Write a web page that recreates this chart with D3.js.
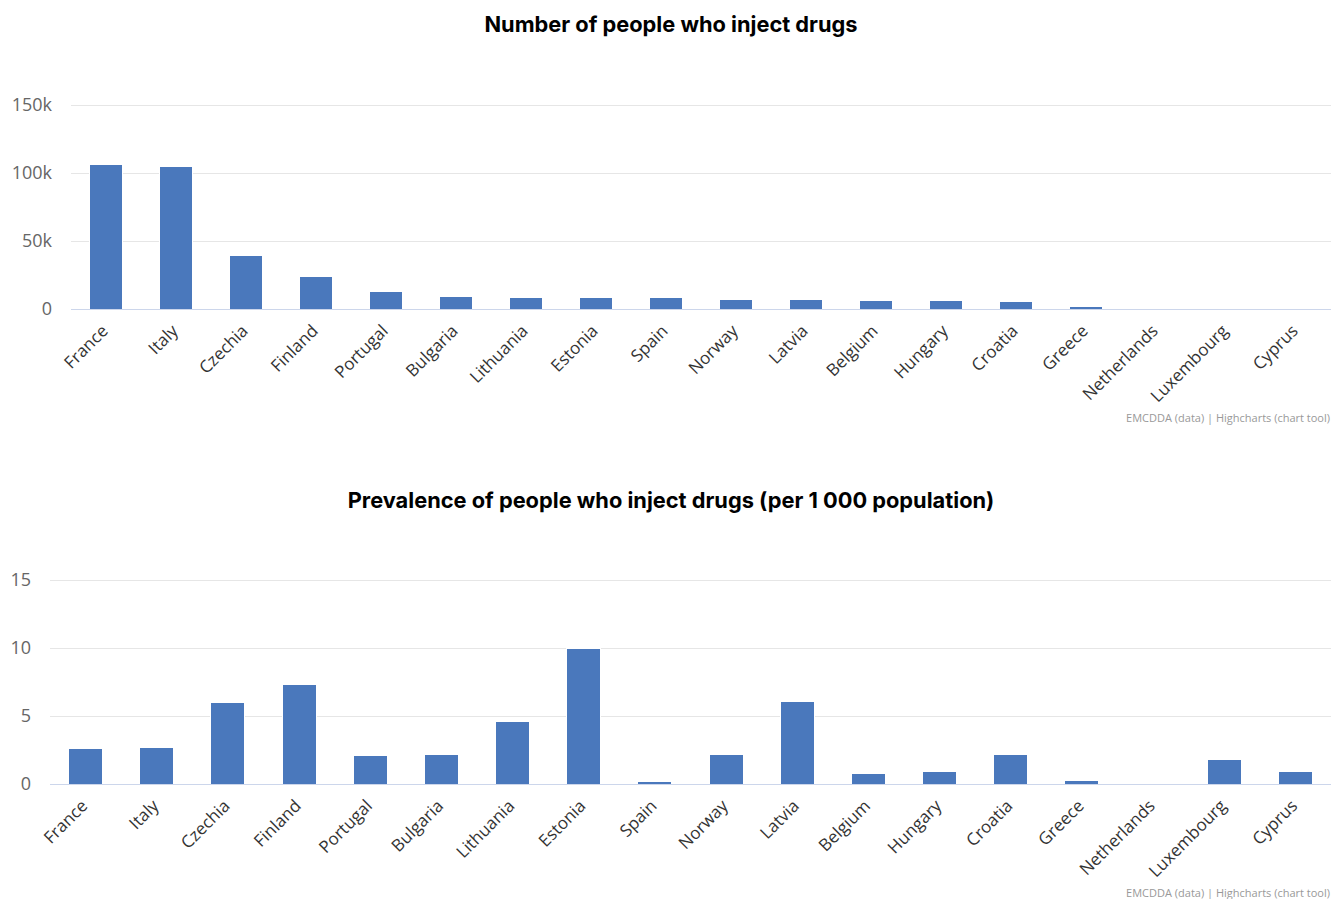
<!DOCTYPE html>
<html><head><meta charset="utf-8">
<script src="https://cdn.jsdelivr.net/npm/d3@7/dist/d3.min.js"></script>
<style>
body{margin:0;background:#fff;}
svg{display:block;}
</style></head>
<body>
<svg id="c" width="1331" height="899"></svg>
<script>
const countries = ["France","Italy","Czechia","Finland","Portugal","Bulgaria","Lithuania","Estonia","Spain","Norway","Latvia","Belgium","Hungary","Croatia","Greece","Netherlands","Luxembourg","Cyprus"];
const numberValues = [106100,104600,39500,24000,12700,9000,8300,8300,8300,7350,7350,6300,6300,5600,1700,0,0,0];
const prevalenceValues = [2.62,2.7,6.0,7.33,2.08,2.18,4.58,9.93,0.2,2.18,6.03,0.74,0.93,2.18,0.29,0,1.81,0.93];
const numberTicks = [0,50000,100000,150000];
const numberTickLabels = ["0","50k","100k","150k"];
const prevalenceTicks = [0,5,10,15];
const prevalenceTickLabels = ["0","5","10","15"];
const titles = ["Number of people who inject drugs","Prevalence of people who inject drugs (per 1 000 population)"];
const credit = "EMCDDA (data) | Highcharts (chart tool)";

const svg = d3.select("#c");
const FONT = "'Open Sans', 'DejaVu Sans', sans-serif";

function drawChart(cfg){
  const g = svg.append("g");
  g.append("text").attr("x", 671).attr("y", cfg.titleY).attr("text-anchor","middle")
    .attr("font-family","Inter, Roboto, sans-serif").attr("font-weight",700).attr("font-size",21.8)
    .attr("fill","#000").text(cfg.title);
  const x = d3.scaleBand().domain(countries).range([cfg.left, 1331]).paddingInner(0.52).paddingOuter(0.26);
  const y = d3.scaleLinear().domain([0, cfg.max]).range([cfg.y0, cfg.y0 - 204]);
  g.append("g").selectAll("line").data(cfg.ticks.slice(1)).join("line")
    .attr("x1", cfg.left).attr("x2", 1331).attr("y1", d=>y(d)+0.5).attr("y2", d=>y(d)+0.5)
    .attr("stroke","#e6e6e6").attr("stroke-width",1);
  g.append("g").selectAll("text").data(cfg.ticks).join("text")
    .attr("x", cfg.labelX).attr("y", d=>y(d)+6).attr("text-anchor","end")
    .attr("font-family",FONT).attr("font-size",18).attr("fill","#666")
    .text((d,i)=>cfg.tickLabels[i]);
  g.append("g").selectAll("rect").data(cfg.values).join("rect")
    .attr("x",(d,i)=>x(countries[i])).attr("width", x.bandwidth())
    .attr("y", d=>y(d)).attr("height", d=>cfg.y0 - y(d))
    .attr("fill","#4a78bc").attr("stroke","#fff").attr("stroke-width",1)
    .attr("shape-rendering","crispEdges");
  g.append("line").attr("x1",cfg.left).attr("x2",1331).attr("y1",cfg.y0+0.5).attr("y2",cfg.y0+0.5)
    .attr("stroke","#ccd6eb").attr("stroke-width",1);
  g.append("g").selectAll("text").data(countries).join("text")
    .attr("transform", d=>`translate(${x(d)+x.bandwidth()/2+3},${cfg.y0+23}) rotate(-45)`)
    .attr("text-anchor","end")
    .attr("font-family",FONT).attr("font-size",17).attr("fill","#333")
    .text(d=>d);
  g.append("text").attr("x",1330).attr("y",cfg.creditY).attr("text-anchor","end")
    .attr("font-family",FONT).attr("font-size",11).attr("fill","#999").text(credit);
}

drawChart({title:titles[0], titleY:32, left:71, y0:309, max:150000, ticks:numberTicks, tickLabels:numberTickLabels, values:numberValues, labelX:52, creditY:422});
drawChart({title:titles[1], titleY:508, left:50, y0:784, max:15, ticks:prevalenceTicks, tickLabels:prevalenceTickLabels, values:prevalenceValues, labelX:31, creditY:897});
</script>
</body></html>
